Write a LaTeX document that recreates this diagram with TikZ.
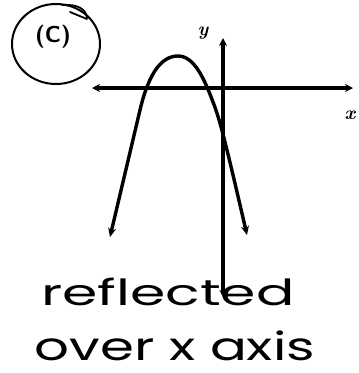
\documentclass[tikz,border=0pt]{standalone}
\usepackage{fontspec}
\newfontfamily\handfont{Poppins}
\usetikzlibrary{arrows.meta, positioning}

\begin{document}
\begin{tikzpicture}[x=1pt, y=-1pt, line cap=round, line join=round]
        \useasboundingbox (0,0) rectangle (359,373);

        % Circled label
        \draw[line width=2pt] (56,44) ellipse (44 and 40);
        \draw[line width=1.8pt] (62,5) .. controls (78,4) and (86,9) .. (87,18);
        \draw[line width=1.8pt] (70,12) -- (87,19);
        \node[font=\sffamily\bfseries\fontsize{23}{23}\selectfont] (tag) at (53,37) {(C)};

        % Axes
        \coordinate (xl) at (92,88);
        \coordinate (xr) at (353,88);
        \coordinate (yt) at (223,38);
        \coordinate (yb) at (223,297);
        \draw[line width=3.2pt, {Stealth[length=8pt,width=8pt]}-{Stealth[length=8pt,width=8pt]}] (xl) -- (xr);
        \draw[line width=3.2pt, {Stealth[length=8pt,width=8pt]}-{Stealth[length=7pt,width=7pt]}] (yt) -- (yb);
        \node[font=\bfseries\itshape\fontsize{19}{19}\selectfont] (ylab) at (203,33) {y};
        \node[font=\bfseries\itshape\fontsize{19}{19}\selectfont] (xlab) at (350,115) {x};

        % Parabola
        \draw[line width=3.4pt, {Stealth[length=9pt,width=8pt]}-{Stealth[length=9pt,width=8pt]}]
            (110,237) -- (140,110) .. controls (149,72) and (162,56) .. (178,56)
            .. controls (194,56) and (204,78) .. (213,102)
            .. controls (220,120) and (225,140) .. (247,235);

        % Handwritten note
        \node[font=\handfont\fontsize{36}{36}\selectfont, anchor=base, inner sep=0pt, xscale=1.58, transform shape] (note1) at (168,305) {reflected};
        \node[font=\handfont\fontsize{39}{39}\selectfont, anchor=base, inner sep=0pt, xscale=1.4, transform shape] (note2) at (175,360) {over x axis};
    \end{tikzpicture}
\end{document}
